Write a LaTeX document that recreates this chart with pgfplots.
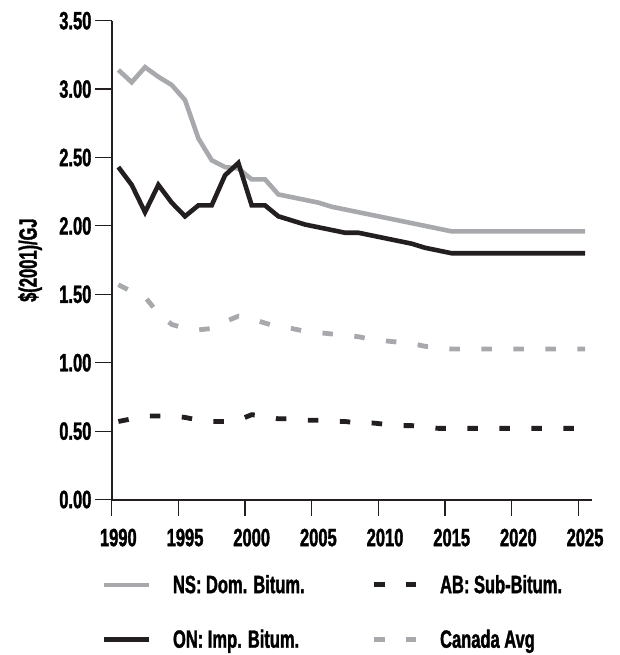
\documentclass[border=0pt]{standalone}
\usepackage{fontspec}
\setmainfont{Liberation Sans}[FakeStretch=0.66, BoldFont={Liberation Sans Bold}, BoldFeatures={FakeBold=1.4}]
\usepackage{pgfplots}
\usepackage{pgfplotstable}
\pgfplotsset{compat=1.18}
\definecolor{cgray}{HTML}{A7A9AC}
\definecolor{cblack}{HTML}{231F20}
\newcommand\cf{\fontsize{25}{25}\selectfont\bfseries}
\pgfplotsset{
  solidleg/.style={legend image code/.code={\draw[##1] (0pt,0pt) -- (45pt,0pt);}},
  dashleg/.style={legend image code/.code={\draw[##1] (0pt,0pt) -- (42pt,0pt);}},
}
\pgfplotstableread{
year ns on ab ca
1990 3.14 2.43 0.57 1.57
1991 3.05 2.30 0.59 1.52
1992 3.16 2.10 0.61 1.48
1993 3.09 2.30 0.61 1.36
1994 3.03 2.17 0.61 1.28
1995 2.92 2.07 0.60 1.25
1996 2.64 2.15 0.58 1.24
1997 2.48 2.15 0.57 1.25
1998 2.43 2.37 0.57 1.30
1999 2.42 2.46 0.58 1.34
2000 2.34 2.15 0.62 1.32
2001 2.34 2.15 0.61 1.29
2002 2.23 2.07 0.59 1.26
2003 2.21 2.04 0.59 1.25
2004 2.19 2.01 0.58 1.23
2005 2.17 1.99 0.58 1.22
2006 2.14 1.97 0.57 1.21
2007 2.12 1.95 0.57 1.20
2008 2.10 1.95 0.56 1.19
2009 2.08 1.93 0.56 1.17
2010 2.06 1.91 0.55 1.16
2011 2.04 1.89 0.54 1.15
2012 2.02 1.87 0.54 1.14
2013 2.00 1.84 0.53 1.12
2014 1.98 1.82 0.52 1.11
2015 1.96 1.80 0.52 1.10
2016 1.96 1.80 0.52 1.10
2017 1.96 1.80 0.52 1.10
2018 1.96 1.80 0.52 1.10
2019 1.96 1.80 0.52 1.10
2020 1.96 1.80 0.52 1.10
2021 1.96 1.80 0.52 1.10
2022 1.96 1.80 0.52 1.10
2023 1.96 1.80 0.52 1.10
2024 1.96 1.80 0.52 1.10
2025 1.96 1.80 0.52 1.10
}\datatable
\begin{document}
\begin{tikzpicture}
\useasboundingbox (-111.7pt,-155.5pt) rectangle (507.3pt,499.5pt);
\begin{axis}[
  at={(0pt,0pt)}, anchor=south west,
  scale only axis, width=480pt, height=478.8pt,
  xmin=1989.5, xmax=2025.5, ymin=0, ymax=3.5,
  axis lines*=left,
  axis line style={line width=2pt, cblack},
  tick align=outside,
  major tick length=16.5pt,
  tick style={line width=1.2pt, cblack},
  ytick={0,0.5,1,1.5,2,2.5,3,3.5},
  xtick={1989.5,1994.5,1999.5,2004.5,2009.5,2014.5,2019.5,2024.5},
  xticklabels={1990,1995,2000,2005,2010,2015,2020,2025},
  xticklabel style={font=\cf, inner sep=0pt, anchor=north, xshift=6.667pt, yshift=-12.5pt},
  yticklabel style={font=\cf, inner sep=0pt, anchor=east, xshift=-3.6pt,
    /pgf/number format/.cd, fixed, fixed zerofill, precision=2, assume math mode=true},
  ylabel={\$(2001)/GJ},
  every axis y label/.style={at={(axis description cs:0,0.5)}, xshift=-81.7pt, rotate=90, anchor=center, font=\cf},
  legend columns=2,
  transpose legend,
  legend cell align=left,
  legend style={at={(axis description cs:0,0)}, anchor=north west, xshift=-10pt, yshift=-75.5pt,
    draw=none, fill=none, inner sep=0pt, outer sep=0pt, font=\cf,
    column sep=21.7pt, row sep=35pt, nodes={inner sep=0pt}},
]
\addplot[cgray, line width=4.6pt, solidleg]
  table[x=year, y=ns] {\datatable};
\addlegendentry{\makebox[176.9pt][l]{\rule[-5pt]{0pt}{23pt}NS: Dom. Bitum.}}
\addplot[cblack, line width=4.6pt, solidleg]
  table[x=year, y=on] {\datatable};
\addlegendentry{\makebox[176.9pt][l]{\rule[-5pt]{0pt}{23pt}ON: Imp. Bitum.}}
\addplot[cblack, line width=4.8pt, dash pattern=on 10.5pt off 21.5pt, dashleg]
  table[x=year, y=ab] {\datatable};
\addlegendentry{\rule[-5pt]{0pt}{23pt}AB: Sub-Bitum.}
\addplot[cgray, line width=4.8pt, dash pattern=on 10.5pt off 21.5pt, dashleg]
  table[x=year, y=ca] {\datatable};
\addlegendentry{\rule[-5pt]{0pt}{23pt}Canada Avg}
\end{axis}
\end{tikzpicture}
\end{document}
